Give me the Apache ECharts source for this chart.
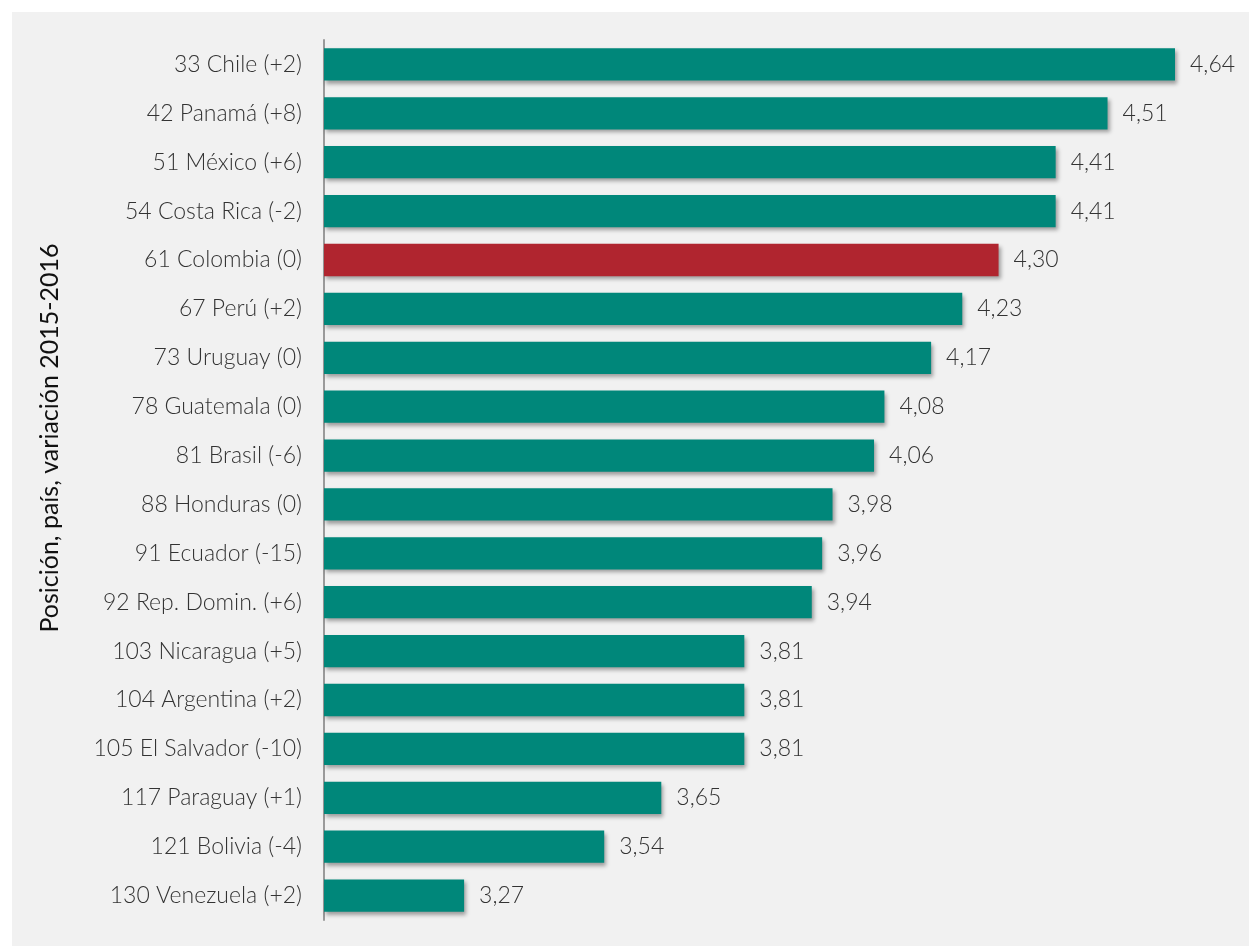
<!DOCTYPE html>
<html>
<head>
<meta charset="utf-8">
<script src="https://cdn.jsdelivr.net/npm/echarts@6/dist/echarts.min.js"></script>
<style>
html,body{margin:0;padding:0;background:#ffffff;}
#c{position:absolute;left:12px;top:12px;width:1237px;height:934px;}
</style>
</head>
<body>
<div id="c"></div>
<script>
const categories = [
  "33 Chile (+2)", "42 Panamá (+8)", "51 México (+6)", "54 Costa Rica (-2)",
  "61 Colombia (0)", "67 Perú (+2)", "73 Uruguay (0)", "78 Guatemala (0)",
  "81 Brasil (-6)", "88 Honduras (0)", "91 Ecuador (-15)", "92 Rep. Domin. (+6)",
  "103 Nicaragua (+5)", "104 Argentina (+2)", "105 El Salvador (-10)",
  "117 Paraguay (+1)", "121 Bolivia (-4)", "130 Venezuela (+2)"
];
const values = [4.64, 4.51, 4.41, 4.41, 4.30, 4.23, 4.17, 4.08, 4.06, 3.98, 3.96, 3.94, 3.81, 3.81, 3.81, 3.65, 3.54, 3.27];
const highlight = "61 Colombia (0)";
const axisTitle = "Posición, país, variación 2015-2016";

const FONT = "Lato";
const chart = echarts.init(document.getElementById('c'));
chart.setOption({
  backgroundColor: '#f1f1f1',
  animation: false,
  grid: {left: 312, top: 28, width: 851, height: 880, containLabel: false},
  xAxis: {type: 'value', min: 3, max: 4.64, show: false},
  yAxis: {
    type: 'category', inverse: true, data: categories,
    axisLine: {show: true, lineStyle: {color: '#9a9a9a', width: 2}},
    axisTick: {show: false},
    axisLabel: {color: '#333', fontSize: 23, fontFamily: FONT, fontWeight: 300, margin: 22}
  },
  graphic: [{
    type: 'text', x: 38, y: 426, rotation: Math.PI / 2,
    style: {text: axisTitle, x: 0, y: 0, align: 'center', verticalAlign: 'middle',
      fill: '#111', fontSize: 25, fontFamily: FONT, fontWeight: 400}
  }],
  series: [{
    type: 'bar', barWidth: '66%',
    data: categories.map((c, i) => ({
      value: values[i],
      itemStyle: {color: c === highlight ? '#b0252f' : '#00877a'}
    })),
    itemStyle: {shadowBlur: 4, shadowOffsetX: 2, shadowOffsetY: 3, shadowColor: 'rgba(0,0,0,0.35)'},
    label: {
      show: true, position: 'right', distance: 15, color: '#333',
      fontSize: 23, fontFamily: FONT, fontWeight: 300,
      formatter: p => p.value.toFixed(2).replace('.', ',')
    }
  }]
});
</script>
</body>
</html>
